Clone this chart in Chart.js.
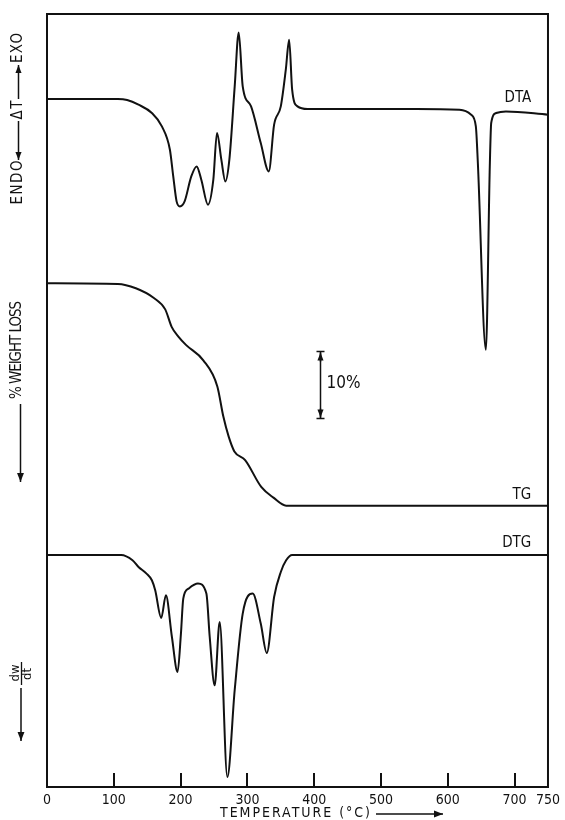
<!DOCTYPE html>
<html>
<head>
<meta charset="utf-8">
<script src="https://cdn.jsdelivr.net/npm/chart.js@4.4.1/dist/chart.umd.min.js"></script>
<style>
html, body { margin: 0; padding: 0; background: #fff; }
#wrap { width: 565px; height: 820px; }
</style>
</head>
<body>
<div id="wrap"><canvas id="chart" width="565" height="820"></canvas></div>
<script>
/* Data (temperature in °C) */
const xTicks = [0, 100, 200, 300, 400, 500, 600, 700, 750];

// DTA, arbitrary ΔT units (exo up)
const dtaTemp = [0, 106, 120, 137, 157, 172, 184, 189, 194, 199, 206, 216, 224, 231, 241, 249, 254.5, 261, 267, 273,
    281, 287, 293, 305.5, 320, 332, 340, 350, 357.5, 362.5, 367, 375, 390, 405, 553, 617.6, 635, 642, 645, 657,
    663, 665, 672.5, 687, 750];
const dtaValues = [0, 0, -0.1, -0.57, -1.4, -2.74, -5.07, -7.74, -10.24, -10.74, -10.24, -7.74, -6.74, -8.07, -10.57, -8.07, -3.4, -6.07, -8.24, -6.07,
    1.26, 6.66, 1.26, -0.74, -4.4, -7.24, -2.57, -0.74, 2.93, 5.93, 0.93, -0.74, -1.0, -1.0, -1.0, -1.07, -1.57, -2.74, -6.37, -25.07,
    -6.4, -2.4, -1.4, -1.24, -1.57];

// TG, % weight loss
const tgTemp = [0, 106, 133, 160, 177, 186.6, 197, 208, 234, 255, 264, 272, 280.5, 296.6, 320.7, 339, 358, 750];
const tgValues = [0, 0.1, 0.75, 2.2, 3.9, 6.5, 8.0, 9.2, 11.5, 15.4, 19.9, 22.9, 25.1, 26.4, 30.4, 32.0, 33.2, 33.2];

// DTG, arbitrary dw/dt units
const dtgTemp = [0, 111, 128, 137, 149, 157, 162, 171, 178, 187, 195.5, 200.5, 204, 212, 226, 238.6, 243.6, 251, 258.5, 270,
    281, 293, 308, 320, 329, 340, 350, 358, 367, 750];
const dtgValues = [0, 0, -0.53, -1.2, -1.86, -2.53, -3.53, -6.3, -4.03, -8.2, -11.7, -7.86, -4.36, -3.36, -2.86, -3.86, -8.2, -13.03, -6.7, -22.2,
    -13.5, -5.86, -3.86, -6.86, -9.8, -4.2, -1.7, -0.53, 0, 0];

const FONT = '"DejaVu Sans Condensed", "Liberation Sans Narrow", "DejaVu Sans", sans-serif';
const INK = "#111";

const toPoints = (xs, ys) => xs.map((x, i) => ({ x: x, y: ys[i] }));

/* Helpers */
function spacedText(ctx, text, cx, cy, width) {
    ctx.letterSpacing = "0px";
    const w = ctx.measureText(text).width;
    let ls = 0;
    if (width && text.length > 1) ls = Math.max(-1.5, (width - w) / (text.length - 1));
    ctx.letterSpacing = ls + "px";
    ctx.textAlign = "left";
    ctx.textBaseline = "middle";
    ctx.fillText(text, cx - (w + ls * (text.length - 1)) / 2, cy);
    ctx.letterSpacing = "0px";
}

function vText(ctx, text, cx, cy, width) {
    ctx.save();
    ctx.translate(cx, cy);
    ctx.rotate(-Math.PI / 2);
    spacedText(ctx, text, 0, 0, width);
    ctx.restore();
}

function arrow(ctx, x1, y1, x2, y2, head) {
    ctx.beginPath();
    ctx.moveTo(x1, y1);
    ctx.lineTo(x2, y2);
    ctx.stroke();
    const a = Math.atan2(y2 - y1, x2 - x1);
    const c = Math.cos(a), s = Math.sin(a), h = head, w = head * 0.38;
    ctx.beginPath();
    ctx.moveTo(x2, y2);
    ctx.lineTo(x2 - h * c + w * s, y2 - h * s - w * c);
    ctx.lineTo(x2 - h * c - w * s, y2 - h * s + w * c);
    ctx.closePath();
    ctx.fill();
}

/* Frame, ticks and annotations */
const decor = {
    id: "decor",
    afterDraw(chart) {
        const { ctx, chartArea: a, scales } = chart;
        const xs = scales.x, yDTA = scales.yDTA, yTG = scales.yTG, yDTG = scales.yDTG;
        ctx.save();
        ctx.strokeStyle = INK;
        ctx.fillStyle = INK;
        ctx.lineWidth = 2;
        ctx.strokeRect(a.left, a.top, a.right - a.left, a.bottom - a.top);

        // inward ticks on the temperature axis
        xTicks.forEach(v => {
            if (v <= 0 || v >= 750) return;
            const x = Math.round(xs.getPixelForValue(v));
            ctx.beginPath();
            ctx.moveTo(x, a.bottom);
            ctx.lineTo(x, a.bottom - 14);
            ctx.stroke();
        });

        // curve names
        ctx.font = "15px " + FONT;
        ctx.textAlign = "right";
        ctx.textBaseline = "middle";
        const lx = xs.getPixelForValue(725);
        ctx.fillText("DTA", lx, yDTA.getPixelForValue(0.1));
        ctx.fillText("TG", lx, yTG.getPixelForValue(31.6));
        ctx.fillText("DTG", lx, yDTG.getPixelForValue(1.2));

        // 10 % scale bar on the TG scale
        const bx = Math.round(xs.getPixelForValue(409)) + 0.5;
        const b1 = yTG.getPixelForValue(10.2), b2 = yTG.getPixelForValue(20.2);
        ctx.lineWidth = 1.5;
        ctx.beginPath();
        ctx.moveTo(bx, b1); ctx.lineTo(bx, b2);
        ctx.moveTo(bx - 4, b1); ctx.lineTo(bx + 4, b1);
        ctx.moveTo(bx - 4, b2); ctx.lineTo(bx + 4, b2);
        ctx.stroke();
        arrow(ctx, bx, b1 + 10, bx, b1 + 1, 8);
        arrow(ctx, bx, b2 - 10, bx, b2 - 1, 8);
        ctx.font = "17px " + FONT;
        ctx.textAlign = "left";
        ctx.fillText("10%", bx + 6, (b1 + b2) / 2 - 2);

        // temperature title
        ctx.font = "14px " + FONT;
        spacedText(ctx, "TEMPERATURE (°C)", 295, 813, 150);
        ctx.lineWidth = 1.5;
        arrow(ctx, 376, 814, 443, 814, 9);

        // left axis titles
        ctx.font = "15px " + FONT;
        vText(ctx, "ENDO", 18.5, 182.5, 44);
        arrow(ctx, 18.5, 121, 18.5, 160, 8);
        vText(ctx, "ΔT", 18.5, 110, 19);
        arrow(ctx, 18.5, 99, 18.5, 65, 8);
        vText(ctx, "EXO", 18.5, 48, 30);

        vText(ctx, "% WEIGHT LOSS", 17.5, 350, 98);
        ctx.lineWidth = 1.5;
        arrow(ctx, 20.5, 404, 20.5, 482, 9);

        ctx.font = "13px " + FONT;
        vText(ctx, "dw", 15.5, 673, 0);
        vText(ctx, "dt", 28, 674, 0);
        ctx.lineWidth = 1.3;
        ctx.beginPath();
        ctx.moveTo(21.5, 662); ctx.lineTo(21.5, 685);
        ctx.stroke();
        ctx.lineWidth = 1.5;
        arrow(ctx, 21, 688, 21, 741, 9);
        ctx.restore();
    }
};

const lineStyle = {
    borderColor: INK,
    borderWidth: 2,
    pointRadius: 0,
    fill: false,
    cubicInterpolationMode: "monotone"
};

new Chart(document.getElementById("chart"), {
    type: "line",
    data: {
        datasets: [
            { label: "DTA", data: toPoints(dtaTemp, dtaValues), yAxisID: "yDTA", ...lineStyle },
            { label: "TG", data: toPoints(tgTemp, tgValues), yAxisID: "yTG", ...lineStyle },
            { label: "DTG", data: toPoints(dtgTemp, dtgValues), yAxisID: "yDTG", ...lineStyle }
        ]
    },
    options: {
        responsive: false,
        animation: false,
        layout: { padding: { left: 47, right: 13, top: 14, bottom: 0 } },
        plugins: { legend: { display: false }, tooltip: { enabled: false } },
        scales: {
            x: {
                type: "linear",
                min: 0,
                max: 750,
                afterBuildTicks: s => { s.ticks = xTicks.map(v => ({ value: v })); },
                afterFit: s => { s.height = 33; },
                grid: { display: false, drawTicks: false },
                border: { display: false },
                ticks: { autoSkip: false, maxRotation: 0, padding: 5, color: INK, font: { size: 14, family: FONT } }
            },
            yDTA: { type: "linear", display: false, min: -68.8, max: 8.5 },
            yTG: { type: "linear", display: false, reverse: true, min: -40.2, max: 75.2 },
            yDTG: { type: "linear", display: false, min: -23.2, max: 54.1 }
        }
    },
    plugins: [decor]
});
</script>
</body>
</html>
